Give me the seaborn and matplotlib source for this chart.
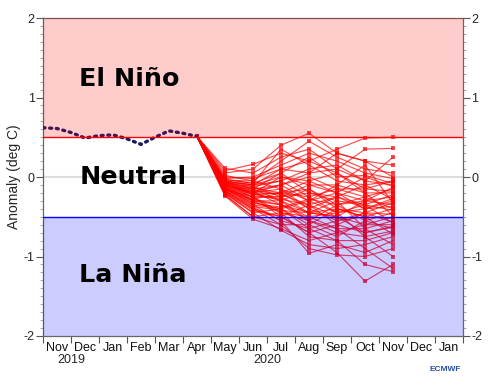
import numpy as np
import pandas as pd
import matplotlib
matplotlib.use("Agg")
import matplotlib.pyplot as plt
import seaborn as sns

# ---------------- data ----------------
month_labels = ["Nov", "Dec", "Jan", "Feb", "Mar", "Apr", "May", "Jun",
                "Jul", "Aug", "Sep", "Oct", "Nov", "Dec", "Jan"]
year_labels = ["2019", "2020"]
year_pos = [1, 8]

# observed (months since 1 Nov 2019)
obs_t = [0.0, 0.5, 1.0, 1.5, 2.0, 2.5, 3.0, 3.5, 4.0, 4.5, 5.0, 5.5]
obs_v = [0.62, 0.61, 0.56, 0.49, 0.52, 0.53, 0.48, 0.41, 0.50, 0.58, 0.55, 0.51]

# forecast months (centres of May..Nov 2020)
fc_t = [6.5, 7.5, 8.5, 9.5, 10.5, 11.5, 12.5]
members = [
    [0.05, 0.10, 0.40, 0.55, 0.30, 0.20, 0.15],
    [0.08, 0.16, 0.30, 0.20, 0.35, 0.49, 0.50],
    [0.11, 0.05, 0.25, 0.35, 0.10, 0.35, 0.36],
    [0.02, -0.05, 0.20, 0.45, 0.25, 0.10, 0.05],
    [-0.02, 0.00, 0.15, 0.30, 0.20, 0.05, -0.02],
    [-0.05, -0.10, 0.10, 0.05, 0.30, 0.20, 0.00],
    [-0.03, -0.08, 0.35, 0.15, -0.05, -0.10, -0.05],
    [-0.06, -0.15, 0.05, 0.25, 0.00, 0.02, -0.08],
    [-0.08, -0.12, -0.05, 0.10, 0.15, -0.05, -0.10],
    [-0.10, -0.20, 0.00, -0.10, -0.20, 0.00, -0.12],
    [-0.07, -0.18, -0.10, 0.00, -0.15, -0.25, -0.15],
    [-0.12, -0.22, -0.20, -0.05, 0.05, -0.15, -0.18],
    [-0.04, -0.05, -0.15, -0.30, -0.10, -0.20, -0.20],
    [-0.09, -0.25, -0.25, -0.20, -0.30, -0.35, -0.22],
    [-0.11, -0.15, -0.30, -0.15, -0.35, -0.30, -0.25],
    [-0.13, -0.28, -0.20, -0.40, -0.25, -0.10, -0.28],
    [-0.06, -0.10, -0.05, -0.25, -0.45, -0.40, -0.30],
    [-0.15, -0.30, -0.35, -0.45, -0.40, -0.45, -0.32],
    [-0.10, -0.22, -0.28, -0.35, -0.50, -0.30, -0.35],
    [-0.14, -0.35, -0.40, -0.30, -0.20, -0.40, -0.37],
    [-0.08, -0.20, -0.15, -0.40, -0.55, -0.50, -0.40],
    [-0.16, -0.25, -0.45, -0.50, -0.45, -0.35, -0.42],
    [-0.12, -0.30, -0.30, -0.55, -0.35, -0.55, -0.45],
    [-0.18, -0.40, -0.50, -0.35, -0.60, -0.45, -0.47],
    [-0.05, -0.12, -0.25, -0.45, -0.50, -0.60, -0.50],
    [-0.20, -0.45, -0.40, -0.60, -0.40, -0.50, -0.52],
    [-0.10, -0.18, -0.35, -0.50, -0.65, -0.65, -0.55],
    [-0.17, -0.35, -0.55, -0.65, -0.55, -0.45, -0.57],
    [-0.22, -0.50, -0.45, -0.55, -0.70, -0.60, -0.60],
    [-0.13, -0.25, -0.50, -0.70, -0.60, -0.70, -0.62],
    [-0.19, -0.40, -0.60, -0.60, -0.75, -0.55, -0.65],
    [-0.24, -0.53, -0.65, -0.80, -0.70, -0.75, -0.68],
    [-0.15, -0.30, -0.45, -0.75, -0.80, -0.80, -0.70],
    [-0.21, -0.45, -0.67, -0.85, -0.90, -0.85, -0.75],
    [-0.18, -0.38, -0.55, -0.96, -0.85, -0.95, -0.80],
    [-0.23, -0.50, -0.60, -0.90, -0.98, -1.00, -0.90],
    [-0.20, -0.42, -0.50, -0.70, -0.95, -1.31, -1.10],
    [-0.16, -0.32, -0.40, -0.65, -0.80, -1.10, -1.19],
    [-0.14, -0.28, -0.35, -0.55, -0.65, -0.90, -1.15],
    [-0.07, -0.15, -0.10, -0.30, -0.45, -0.75, -1.00],
    [-0.11, -0.20, -0.30, -0.45, -0.30, -0.65, -0.85],
    [-0.09, -0.22, -0.20, -0.15, -0.40, -0.50, -0.72],
    [-0.03, -0.08, 0.05, -0.20, -0.25, -0.35, -0.58],
    [0.00, -0.02, 0.10, 0.20, 0.05, -0.20, -0.48],
    [-0.12, -0.25, -0.25, -0.10, -0.10, 0.15, -0.33],
    [-0.10, -0.20, -0.10, 0.05, 0.10, -0.05, 0.25],
    [-0.06, -0.14, -0.20, -0.25, -0.15, -0.15, -0.05],
    [-0.15, -0.33, -0.38, -0.28, -0.35, -0.25, -0.40],
    [-0.08, -0.17, -0.22, -0.35, -0.25, -0.40, -0.27],
    [-0.17, -0.37, -0.42, -0.45, -0.50, -0.70, -0.63],
    [-0.05, -0.10, 0.00, -0.05, -0.20, -0.30, -0.13],
]

# ---------------- build tables ----------------
rows = []
for i, m in enumerate(members):
    rows.append({"member": i, "t": obs_t[-1], "v": obs_v[-1]})
    for t, v in zip(fc_t, m):
        rows.append({"member": i, "t": t, "v": v})
fc_df = pd.DataFrame(rows)
obs_df = pd.DataFrame({"t": obs_t, "v": obs_v})

# ---------------- figure ----------------
sns.set_theme(style="white")
plt.rcParams["font.family"] = ["Liberation Sans", "DejaVu Sans"]

fig = plt.figure(figsize=(4.91, 3.85), dpi=100)
ax = fig.add_axes([43 / 491, 1 - 336 / 385, 420 / 491, 318 / 385])

ax.axhline(0, color="#DDDDDD", lw=1.5, zorder=1)

sns.lineplot(data=fc_df, x="t", y="v", units="member", estimator=None,
             color="#FF0000", alpha=0.7, lw=0.85, marker="s", markersize=2.4,
             markeredgewidth=0, ax=ax, zorder=3, legend=False)

sns.lineplot(data=obs_df, x="t", y="v", color="#1a1a66", lw=2.4,
             linestyle=(0, (0.6, 1.4)), dash_capstyle="round", ax=ax,
             zorder=4, legend=False, sort=False)

# translucent category bands drawn over the lines
ax.axhspan(0.5, 2, color="#FF0000", alpha=0.2, zorder=4.5, lw=0)
ax.axhspan(-2, -0.5, color="#0000FF", alpha=0.2, zorder=4.5, lw=0)

ax.axhline(0.5, color="#FF0000", lw=1.0, zorder=5)
ax.axhline(-0.5, color="#0000FF", lw=1.0, zorder=5)

ax.set_xlim(0, 15)
ax.set_ylim(-2, 2)

# x ticks: boundaries (marks), centres (labels)
ax.set_xticks(np.arange(0, 16))
ax.set_xticklabels([])
ax.set_xticks(np.arange(15) + 0.5, minor=True)
ax.set_xticklabels(month_labels, minor=True, fontsize=9)
ax.tick_params(axis="x", which="major", direction="out", length=5,
               width=0.8, color="#555555", bottom=True, top=False)
ax.tick_params(axis="x", which="minor", length=0, pad=4, colors="#111111")

# y ticks
ax.set_yticks([-2, -1, 0, 1, 2])
ax.set_yticklabels(["-2", "-1", "0", "1", "2"], fontsize=9)
ax.set_yticks(np.arange(-2, 2.001, 0.1), minor=True)
ax.tick_params(axis="y", which="major", direction="out", length=5, width=0.8,
               color="#555555", left=True, right=True, labelleft=True,
               labelright=True, pad=1)
ax.tick_params(axis="y", which="minor", direction="out", length=2.5,
               width=0.6, color="#999999", left=True, right=True)

for s in ax.spines.values():
    s.set_color("#666666")
    s.set_linewidth(0.9)

ax.set_xlabel("")
ax.set_ylabel("Anomaly (deg C)", fontsize=10, labelpad=2)

for lab, p in zip(year_labels, year_pos):
    ax.annotate(lab, xy=(p, 0), xycoords=("data", "axes fraction"),
                xytext=(0, -13), textcoords="offset points",
                ha="center", va="top", fontsize=9)

big = dict(fontsize=18.3, fontweight="bold", family=["DejaVu Sans"],
           va="center", ha="left", zorder=6, color="black")
ax.text(1.3, 1.23, "El Niño", **big)
ax.text(1.3, 0.0, "Neutral", **big)
ax.text(1.3, -1.23, "La Niña", **big)

fig.text(0.938, 0.04, "ECMWF", fontsize=6, fontweight="bold",
         color="#2850a0", ha="right", va="center")

fig.savefig("out.png", dpi=100)
